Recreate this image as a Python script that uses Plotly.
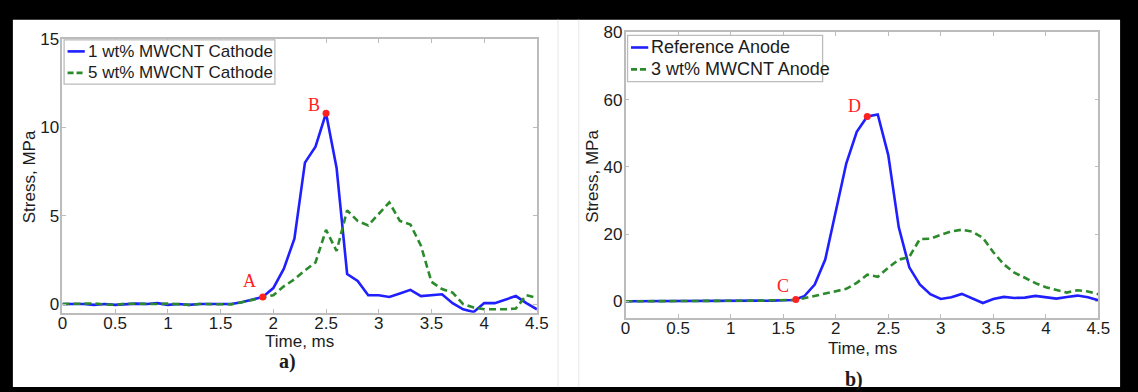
import plotly.graph_objects as go

W, H = 1138, 392

# ---- data -------------------------------------------------------------
time_ms = [round(0.1 * i, 1) for i in range(46)]

cathode_1wt = [0.0, 0.0, 0.0, -0.05, 0.0, -0.05, 0.0, 0.02, 0.0, 0.05,
               -0.05, 0.0, -0.05, 0.0, 0.0, 0.0, 0.0, 0.1, 0.25, 0.4,
               0.9, 2.0, 3.7, 8.0, 8.9, 10.8, 7.7, 1.7, 1.3, 0.5,
               0.5, 0.4, 0.6, 0.8, 0.45, 0.5, 0.55, 0.05, -0.3, -0.45,
               0.05, 0.05, 0.25, 0.45, 0.05, -0.3]
cathode_5wt = [0.0, 0.0, 0.02, 0.03, -0.02, -0.05, 0.02, 0.0, 0.02, 0.0,
               0.02, -0.02, -0.05, 0.0, 0.0, 0.0, -0.02, 0.1, 0.22, 0.35,
               0.5, 1.0, 1.4, 1.9, 2.35, 4.2, 3.0, 5.3, 4.7, 4.45,
               5.1, 5.75, 4.7, 4.5, 3.3, 1.25, 0.85, 0.65, 0.0, -0.2,
               -0.3, -0.3, -0.3, -0.25, 0.5, 0.35]

anode_ref = [0.0, 0.0, 0.1, 0.1, 0.2, 0.2, 0.1, 0.1, 0.1, 0.2,
             0.2, 0.1, 0.1, 0.2, 0.2, 0.3, 0.4, 1.5, 5.0, 12.4,
             27.0, 41.0, 50.4, 55.0, 55.6, 43.5, 22.0, 10.1, 5.0, 2.1,
             0.7, 1.2, 2.2, 0.9, -0.5, 0.7, 1.3, 1.0, 1.1, 1.6,
             1.2, 0.8, 1.3, 1.7, 1.2, 0.3]
anode_3wt = [0.0, 0.0, 0.1, 0.1, 0.1, 0.2, 0.1, 0.1, 0.1, 0.1,
             0.2, 0.2, 0.1, 0.2, 0.3, 0.3, 0.4, 0.9, 1.6, 2.5,
             3.0, 3.7, 5.5, 7.9, 7.3, 10.0, 12.4, 13.2, 18.5, 18.6,
             19.8, 20.8, 21.3, 20.7, 18.9, 14.6, 11.0, 8.5, 7.0, 5.4,
             4.2, 3.3, 2.6, 3.3, 2.9, 2.1]

points_a_labels = ["A", "B"]
points_a_time = [1.9, 2.5]
points_a_stress = [0.4, 10.8]
points_b_labels = ["C", "D"]
points_b_time = [1.62, 2.3]
points_b_stress = [0.5, 55.0]

x_ticks = [0, 0.5, 1, 1.5, 2, 2.5, 3, 3.5, 4, 4.5]
y_ticks_a = [0, 5, 10, 15]
y_ticks_b = [0, 20, 40, 60, 80]

# ---- styling ----------------------------------------------------------
BLUE = "#1f1fff"
GREEN = "#2b8a2b"
RED = "#ff2020"
AXIS_GRAY = "#bcbcbc"
TEXT = "#1c1c1c"
SANS = "Liberation Sans, Arial, sans-serif"
SERIF = "Liberation Serif, Times New Roman, serif"


def px(x):
    return x / W


def py(y):
    return 1 - y / H


fig = go.Figure()

fig.add_trace(go.Scatter(x=time_ms, y=cathode_1wt, mode="lines",
                         name="1 wt% MWCNT Cathode",
                         line=dict(color=BLUE, width=2.6),
                         xaxis="x", yaxis="y", showlegend=False))
fig.add_trace(go.Scatter(x=time_ms, y=cathode_5wt, mode="lines",
                         name="5 wt% MWCNT Cathode",
                         line=dict(color=GREEN, width=2.6, dash="7px,4px"),
                         xaxis="x", yaxis="y", showlegend=False))
fig.add_trace(go.Scatter(x=points_a_time, y=points_a_stress, mode="markers",
                         marker=dict(color=RED, size=7),
                         xaxis="x", yaxis="y", showlegend=False))

fig.add_trace(go.Scatter(x=time_ms, y=anode_ref, mode="lines",
                         name="Reference Anode",
                         line=dict(color=BLUE, width=2.6),
                         xaxis="x2", yaxis="y2", showlegend=False))
fig.add_trace(go.Scatter(x=time_ms, y=anode_3wt, mode="lines",
                         name="3 wt% MWCNT Anode",
                         line=dict(color=GREEN, width=2.6, dash="7px,4px"),
                         xaxis="x2", yaxis="y2", showlegend=False))
fig.add_trace(go.Scatter(x=points_b_time, y=points_b_stress, mode="markers",
                         marker=dict(color=RED, size=7),
                         xaxis="x2", yaxis="y2", showlegend=False))

axis_common = dict(showline=True, linecolor=AXIS_GRAY, linewidth=1.5,
                   mirror="ticks", ticks="inside", ticklen=4,
                   tickcolor=AXIS_GRAY, tickwidth=1, showgrid=False,
                   zeroline=False, tickfont=dict(family=SANS, size=17, color=TEXT))
x_common = dict(axis_common, ticklabelstandoff=-6)
y_common = dict(axis_common, ticklabelstandoff=-2)

fig.update_layout(
    width=W, height=H,
    margin=dict(l=0, r=0, t=0, b=0),
    paper_bgcolor="black",
    plot_bgcolor="white",
    xaxis=dict(domain=[px(58.3), px(540)], range=[0, 4.5], tickvals=x_ticks,
               anchor="y", **x_common),
    yaxis=dict(domain=[py(311.8), py(30.7)], range=[-0.5, 15], tickvals=y_ticks_a,
               anchor="x", **y_common),
    xaxis2=dict(domain=[px(630), px(1110)], range=[0, 4.5], tickvals=x_ticks,
                anchor="y2", **x_common),
    yaxis2=dict(domain=[py(317.2), py(24)], range=[-5, 80], tickvals=y_ticks_b,
                anchor="x2", **y_common),
)

shapes = [
    # white sheet inside the black frame
    dict(type="rect", xref="paper", yref="paper", layer="below",
         x0=px(8), x1=px(1132), y0=py(388), y1=py(11),
         fillcolor="white", line=dict(width=0)),
    # faint panel separators
    dict(type="line", xref="paper", yref="paper", layer="below",
         x0=px(561.5), x1=px(561.5), y0=py(388), y1=py(11),
         line=dict(color="#e6e6e6", width=1)),
    dict(type="line", xref="paper", yref="paper", layer="below",
         x0=px(582.5), x1=px(582.5), y0=py(388), y1=py(11),
         line=dict(color="#e6e6e6", width=1)),
]
annotations = []


def add_legend(x0, x1, y0, y1, size, entries):
    shapes.append(dict(type="rect", xref="paper", yref="paper",
                       x0=px(x0), x1=px(x1), y0=py(y1), y1=py(y0),
                       fillcolor="white", line=dict(color=AXIS_GRAY, width=1.3)))
    for label, color, dash, yc in entries:
        shapes.append(dict(type="line", xref="paper", yref="paper",
                           x0=px(x0 + 3.5), x1=px(x0 + 21), y0=py(yc), y1=py(yc),
                           line=dict(color=color, width=2.6, dash=dash)))
        annotations.append(dict(xref="paper", yref="paper", x=px(x0 + 22), y=py(yc),
                                text=label, showarrow=False, xanchor="left",
                                yanchor="middle",
                                font=dict(family=SANS, size=size, color=TEXT)))


add_legend(60, 274, 31.7, 77, 17,
           [("1 wt% MWCNT Cathode", BLUE, "solid", 43.5),
            ("5 wt% MWCNT Cathode", GREEN, "6px,3px", 65.5)])
add_legend(632, 830, 27, 74.5, 18,
           [("Reference Anode", BLUE, "solid", 39.5),
            ("3 wt% MWCNT Anode", GREEN, "6px,3px", 62)])

# axis titles
for x, y, text, angle in [(25, 172, "Stress, MPa", -90), (597, 172, "Stress, MPa", -90),
                          (299, 341, "Time, ms", 0), (870, 348, "Time, ms", 0)]:
    annotations.append(dict(xref="paper", yref="paper", x=px(x), y=py(y), text=text,
                            textangle=angle, showarrow=False, xanchor="center",
                            yanchor="middle",
                            font=dict(family=SANS, size=17, color=TEXT)))

# panel captions
for x, y, text in [(287, 362, "a)"), (862, 380, "b)")]:
    annotations.append(dict(xref="paper", yref="paper", x=px(x), y=py(y),
                            text="<b>" + text + "</b>", showarrow=False,
                            xanchor="center", yanchor="middle",
                            font=dict(family=SERIF, size=20, color=TEXT)))

# point labels
offsets = {"A": (-13, 16), "B": (-12, 8), "C": (-13, 14), "D": (-13, 10)}
for labels, ts, vs, xr, yr in [(points_a_labels, points_a_time, points_a_stress, "x", "y"),
                               (points_b_labels, points_b_time, points_b_stress, "x2", "y2")]:
    for lab, t, v in zip(labels, ts, vs):
        dx, dy = offsets[lab]
        annotations.append(dict(xref=xr, yref=yr, x=t, y=v, text=lab, showarrow=False,
                                xshift=dx, yshift=dy,
                                font=dict(family=SERIF, size=18, color=RED)))

fig.update_layout(shapes=shapes, annotations=annotations)

fig.write_html("out.html")
